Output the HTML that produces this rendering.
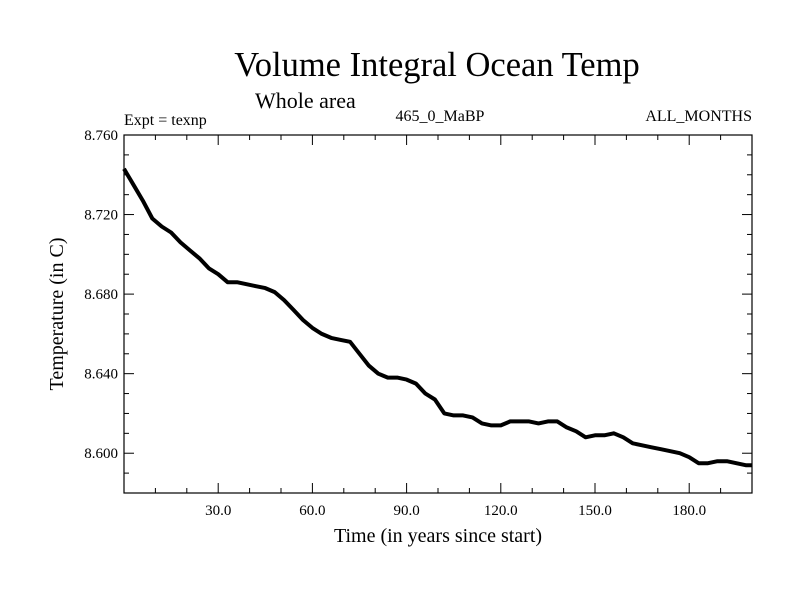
<!DOCTYPE html>
<html><head><meta charset="utf-8"><style>
html,body{margin:0;padding:0;background:#fff}
svg{display:block;font-family:"Liberation Serif",serif}
</style></head><body>
<svg id="chart" width="800" height="600" viewBox="0 0 800 600">
<text x="437" y="76" font-size="34.5" text-anchor="middle">Volume Integral Ocean Temp</text>
<text x="255" y="108" font-size="22">Whole area</text>
<text x="124" y="125" font-size="16">Expt = texnp</text>
<text x="440" y="121" font-size="16" text-anchor="middle">465_0_MaBP</text>
<text x="752" y="121" font-size="16" text-anchor="end">ALL_MONTHS</text>
<text transform="translate(63,314) rotate(-90)" font-size="20" text-anchor="middle">Temperature (in C)</text>
<text x="438" y="542" font-size="20" text-anchor="middle">Time (in years since start)</text>
<g id="axes"></g>
<g id="series"></g>
<rect x="124" y="135" width="628" height="358" fill="none" stroke="#000" stroke-width="1.2"/>
</svg>
<script>
const years = [0,3,6,9,12,15,18,21,24,27,30,33,36,39,42,45,48,51,54,57,60,63,66,69,72,75,78,81,84,87,90,93,96,99,102,105,108,111,114,117,120,123,126,129,132,135,138,141,144,147,150,153,156,159,162,165,168,171,174,177,180,183,186,189,192,195,198,200];
const temps = [8.743,8.735,8.727,8.718,8.714,8.711,8.706,8.702,8.698,8.693,8.690,8.686,8.686,8.685,8.684,8.683,8.681,8.677,8.672,8.667,8.663,8.660,8.658,8.657,8.656,8.650,8.644,8.640,8.638,8.638,8.637,8.635,8.630,8.627,8.620,8.619,8.619,8.618,8.615,8.614,8.614,8.616,8.616,8.616,8.615,8.616,8.616,8.613,8.611,8.608,8.609,8.609,8.610,8.608,8.605,8.604,8.603,8.602,8.601,8.600,8.598,8.595,8.595,8.596,8.596,8.595,8.594,8.594];
const xTicks = [30,60,90,120,150,180];
const xTickLabels = ["30.0","60.0","90.0","120.0","150.0","180.0"];
const yTicks = [8.60,8.64,8.68,8.72,8.76];
const yTickLabels = ["8.600","8.640","8.680","8.720","8.760"];
const X0=124,X1=752,Y0=493,Y1=135,XMIN=0,XMAX=200,YMIN=8.58,YMAX=8.76;
function sx(v){return X0+(v-XMIN)/(XMAX-XMIN)*(X1-X0);}
function sy(v){return Y0-(v-YMIN)/(YMAX-YMIN)*(Y0-Y1);}
const NS="http://www.w3.org/2000/svg";
const axes=document.getElementById('axes');
function mk(tag,attrs,parent){const e=document.createElementNS(NS,tag);for(const k in attrs)e.setAttribute(k,attrs[k]);parent.appendChild(e);return e;}
for(let v=10;v<200;v+=10){
  const major=xTicks.includes(v);const L=major?10:5;const x=sx(v);
  const t1=mk('line',{x1:x,x2:x,y1:Y0,y2:Y0-L,stroke:'#000','stroke-width':1},axes);
  
  
  const t2=mk('line',{x1:x,x2:x,y1:Y1,y2:Y1+L,stroke:'#000','stroke-width':1},axes);
  
  
}
xTicks.forEach((v,i)=>{
  const t=mk('text',{x:sx(v),y:Y0+22,'font-size':15,'text-anchor':'middle'},axes);
  t.textContent=xTickLabels[i];
  
  
});
for(let k=1;k<18;k++){
  const v=YMIN+k*0.01;const major=(k%4===2);const L=major?10:5;const y=sy(v);
  const t1=mk('line',{x1:X0,x2:X0+L,y1:y,y2:y,stroke:'#000','stroke-width':1},axes);
  
  
  const t2=mk('line',{x1:X1,x2:X1-L,y1:y,y2:y,stroke:'#000','stroke-width':1},axes);
  
  
}
yTicks.forEach((v,i)=>{
  const t=mk('text',{x:X0-6,y:sy(v)+5,'font-size':15,'text-anchor':'end'},axes);
  t.textContent=yTickLabels[i];
  
  
});
const pts=years.map((y,i)=>sx(y).toFixed(1)+','+sy(temps[i]).toFixed(1)).join(' ');
const line=mk('polyline',{points:pts,fill:'none',stroke:'#000','stroke-width':4,'stroke-linejoin':'round'},document.getElementById('series'));


</script>
</body></html>
